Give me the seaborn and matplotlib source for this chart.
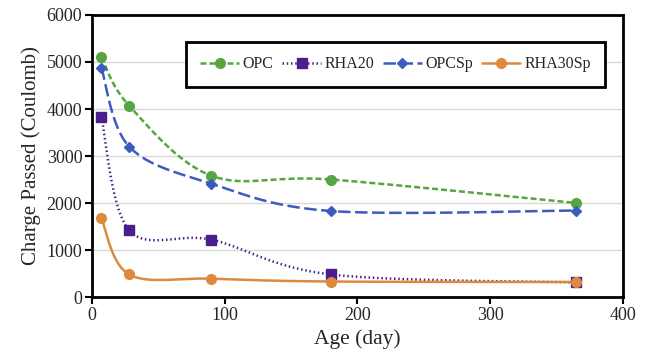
import numpy as np
import pandas as pd
import matplotlib
matplotlib.use("Agg")
import matplotlib.pyplot as plt
from matplotlib.lines import Line2D
import seaborn as sns

age = [7, 28, 90, 180, 365]
opc = [5100, 4070, 2580, 2500, 2000]
rha20 = [3830, 1420, 1220, 480, 310]
opcsp = [4880, 3200, 2410, 1830, 1840]
rha30sp = [1680, 480, 390, 330, 320]

series_names = ["OPC", "RHA20", "OPCSp", "RHA30Sp"]
series_vals = [opc, rha20, opcsp, rha30sp]
colors = ["#58A443", "#4B1E8E", "#3B5CBF", "#DD8A3E"]
styles = [(0, (2.4, 1.2)), (0, (0.6, 1.1)), (0, (5, 1.8)), "-"]
markers = ["o", "s", "D", "o"]
msizes = [7, 7.5, 5.5, 7]


def excel_smooth(x, y, n=40):
    x = np.asarray(x, float)
    y = np.asarray(y, float)
    px = np.concatenate([[x[0]], x, [x[-1]]])
    py = np.concatenate([[y[0]], y, [y[-1]]])
    t = np.linspace(0, 1, n)
    ox, oy = [], []
    for i in range(1, len(px) - 2):
        p0 = np.array([px[i], py[i]])
        p3 = np.array([px[i + 1], py[i + 1]])
        c1 = p0 + (np.array([px[i + 1], py[i + 1]]) - np.array([px[i - 1], py[i - 1]])) / 6
        c2 = p3 - (np.array([px[i + 2], py[i + 2]]) - np.array([px[i], py[i]])) / 6
        b = (np.outer((1 - t) ** 3, p0) + np.outer(3 * (1 - t) ** 2 * t, c1)
             + np.outer(3 * (1 - t) * t ** 2, c2) + np.outer(t ** 3, p3))
        ox.extend(b[:, 0])
        oy.extend(b[:, 1])
    return np.array(ox), np.array(oy)


sns.set_theme(style="white")
plt.rcParams["font.family"] = ["Liberation Serif", "DejaVu Serif"]

fig = plt.figure(figsize=(6.49, 3.57), dpi=100)
ax = fig.add_axes([0.1418, 0.168, 0.818, 0.790])

handles = []
for name, vals, c, ls, m, ms in zip(series_names, series_vals, colors, styles, markers, msizes):
    sx, sy = excel_smooth(age, vals)
    df = pd.DataFrame({"x": sx, "y": sy})
    sns.lineplot(data=df, x="x", y="y", ax=ax, color=c, linewidth=1.8,
                 sort=False, estimator=None, zorder=3)
    ax.lines[-1].set_linestyle(ls)
    ax.plot(age, vals, linestyle="none", marker=m, markersize=ms, color=c, zorder=4)
    handles.append(Line2D([0], [0], color=c, linestyle=ls, linewidth=1.8,
                          marker=m, markersize=ms, label=name))

ax.set_xlim(0, 400)
ax.set_ylim(0, 6000)
ax.set_xticks(np.arange(0, 401, 100))
ax.set_yticks(np.arange(0, 6001, 1000))
ax.yaxis.grid(True, color="#D9D9D9", linewidth=1)
ax.set_axisbelow(True)
for s in ax.spines.values():
    s.set_color("black")
    s.set_linewidth(2)
ax.tick_params(axis="both", direction="out", length=5, width=1.5, color="black",
               labelsize=13, bottom=True, left=True, pad=2)
ax.set_xlabel("Age (day)", fontsize=15.5)
ax.set_ylabel("Charge Passed (Coulomb)", fontsize=15)

leg = ax.legend(handles=handles, ncol=4, loc="upper left",
                bbox_to_anchor=(0.177, 0.904), fontsize=11.5, frameon=True,
                fancybox=False, edgecolor="black", framealpha=1,
                handlelength=2.4, columnspacing=0.55, handletextpad=0.25,
                borderpad=0.9, borderaxespad=0)
leg.get_frame().set_linewidth(2)

fig.savefig("out.png", dpi=100)
